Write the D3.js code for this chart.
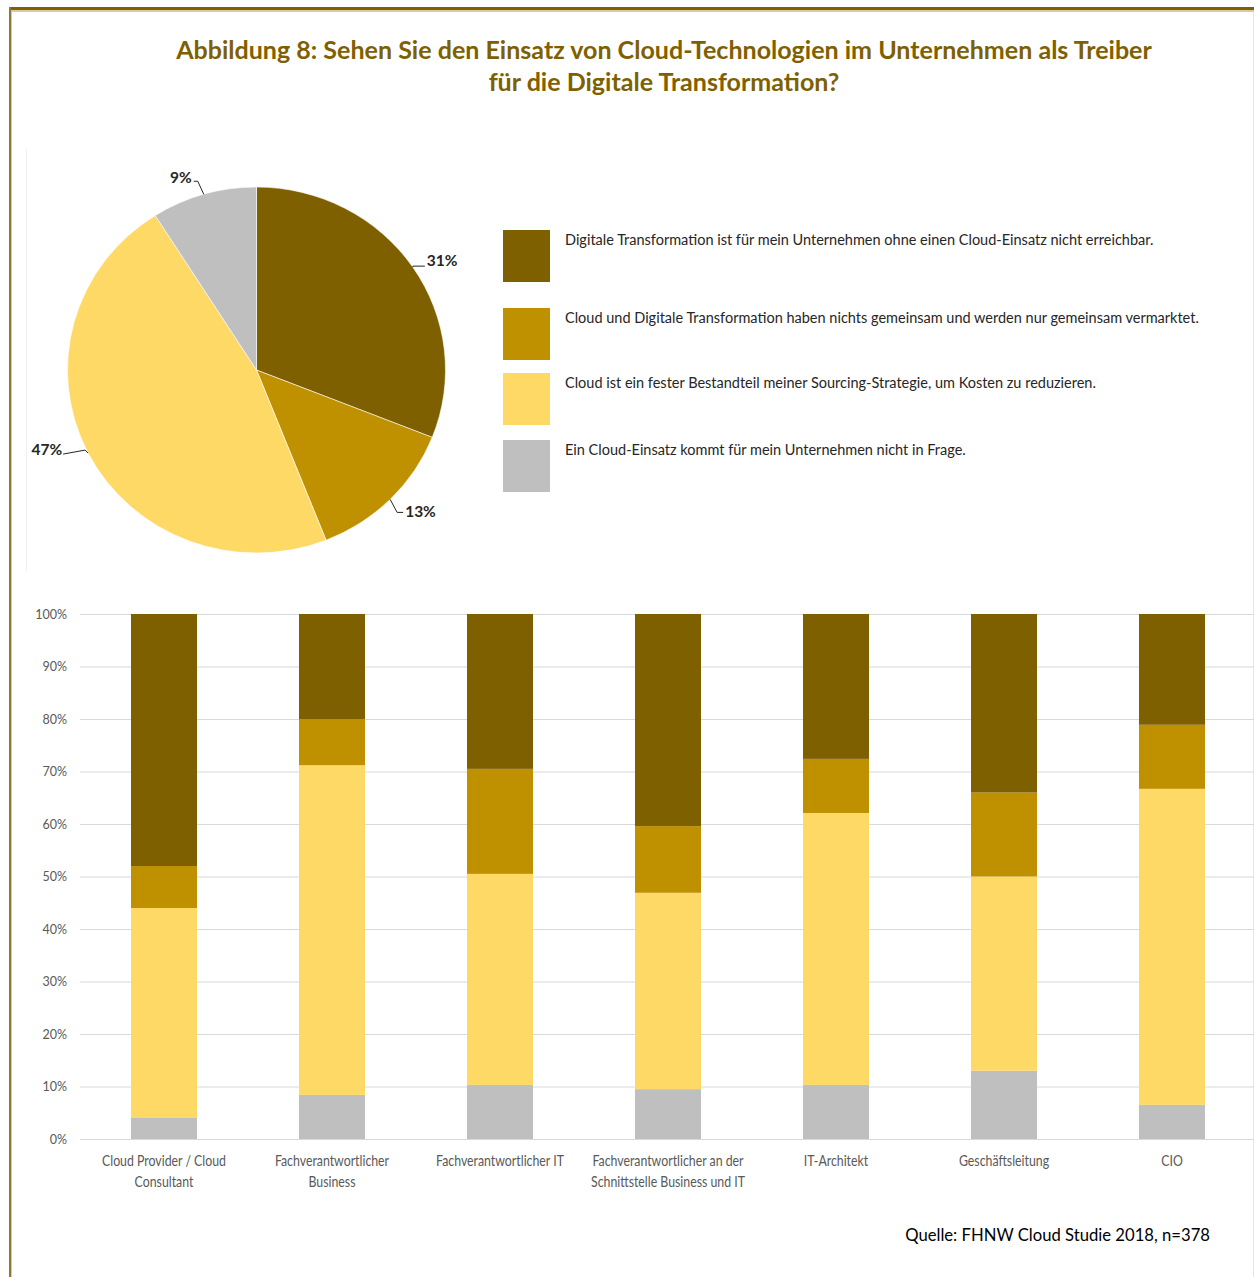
<!DOCTYPE html>
<html>
<head>
<meta charset="utf-8">
<script src="https://cdn.jsdelivr.net/npm/d3@7"></script>
<style>
  html, body { margin: 0; padding: 0; background: #fff; }
  svg { display: block; }
  text { font-family: Lato, "Open Sans", "Liberation Sans", sans-serif; }
</style>
</head>
<body>
<svg id="chart" width="1254" height="1277"></svg>
<script>
// ---- data ----
const titleLines = [
  "Abbildung 8: Sehen Sie den Einsatz von Cloud-Technologien im Unternehmen als Treiber",
  "für die Digitale Transformation?"
];
const seriesNames = [
  "Digitale Transformation ist für mein Unternehmen ohne einen Cloud-Einsatz nicht erreichbar.",
  "Cloud und Digitale Transformation haben nichts gemeinsam und werden nur gemeinsam vermarktet.",
  "Cloud ist ein fester Bestandteil meiner Sourcing-Strategie, um Kosten zu reduzieren.",
  "Ein Cloud-Einsatz kommt für mein Unternehmen nicht in Frage."
];
const seriesKeys = ["notReachable", "nothingInCommon", "sourcingPart", "notAnOption"];
const seriesColors = ["#7F6000", "#BF9000", "#FFD966", "#BFBFBF"];

// overall shares (pie)
const totalShares = [31, 13, 47, 9];

// shares by role (stacked bars), percent
const categories = [
  "Cloud Provider / Cloud Consultant",
  "Fachverantwortlicher Business",
  "Fachverantwortlicher IT",
  "Fachverantwortlicher an der Schnittstelle Business und IT",
  "IT-Architekt",
  "Geschäftsleitung",
  "CIO"
];
const categoryLines = [
  ["Cloud Provider / Cloud", "Consultant"],
  ["Fachverantwortlicher", "Business"],
  ["Fachverantwortlicher IT"],
  ["Fachverantwortlicher an der", "Schnittstelle Business und IT"],
  ["IT-Architekt"],
  ["Geschäftsleitung"],
  ["CIO"]
];
const notReachable    = [48.0, 20.0, 29.5, 40.4, 27.6, 34.0, 21.1];
const nothingInCommon = [ 8.0,  8.8, 20.0, 12.7, 10.3, 16.0, 12.2];
const sourcingPart    = [40.0, 62.8, 40.2, 37.4, 51.8, 37.0, 60.2];
const notAnOption     = [ 4.0,  8.4, 10.3,  9.5, 10.3, 13.0,  6.5];

const yTicks = [0, 10, 20, 30, 40, 50, 60, 70, 80, 90, 100];
const sourceNote = "Quelle: FHNW Cloud Studie 2018, n=378";

// ---- drawing ----
const svg = d3.select("#chart");

// scale a text's font size so that it spans the given width
function fitWidth(sel, target) {
  const node = sel.node();
  const size = parseFloat(sel.attr("font-size"));
  const w = node.getComputedTextLength();
  const s = size * target / w;
  sel.attr("font-size", s);
  return s;
}

// page frame
svg.append("rect").attr("x", 9).attr("y", 7).attr("width", 1245).attr("height", 3).attr("fill", "#7F6000");
svg.append("rect").attr("x", 11).attr("y", 10).attr("width", 1243).attr("height", 2).attr("fill", "#d8cba0");
svg.append("rect").attr("x", 9).attr("y", 7).attr("width", 2).attr("height", 1270).attr("fill", "#8c7838");
svg.append("rect").attr("x", 11).attr("y", 10).attr("width", 1).attr("height", 1267).attr("fill", "#d8cba0");
svg.append("line").attr("x1", 1253.5).attr("x2", 1253.5).attr("y1", 12).attr("y2", 1277)
  .attr("stroke", "#e6e6e6").attr("stroke-width", 1);
svg.append("line").attr("x1", 26.5).attr("x2", 26.5).attr("y1", 148).attr("y2", 572)
  .attr("stroke", "#f0f0f0").attr("stroke-width", 1);

// title
const t1 = svg.append("text").attr("x", 664).attr("y", 59).attr("text-anchor", "middle")
  .attr("font-size", 24).attr("font-weight", 700).attr("fill", "#7F6000").text(titleLines[0]);
const titleSize = fitWidth(t1, 976);
svg.append("text").attr("x", 664).attr("y", 91).attr("text-anchor", "middle")
  .attr("font-size", titleSize).attr("font-weight", 700).attr("fill", "#7F6000").text(titleLines[1]);

// ---- pie ----
const cx = 256.5, cy = 370, rx = 189, ry = 183;
const pieData = d3.pie().sort(null).value(d => d)(totalShares);
const arc = d3.arc().innerRadius(0).outerRadius(rx);
const pieG = svg.append("g").attr("transform", `translate(${cx},${cy}) scale(1,${ry / rx})`);
pieG.selectAll("path").data(pieData).join("path")
  .attr("d", arc)
  .attr("fill", (d, i) => seriesColors[i])
  .attr("stroke", "#fff").attr("stroke-width", 0.6);

// outside labels with leader lines
const labelLayout = [
  { elbow: [0, -1],   end: [12, -1],   anchor: "start", tx: 14,  ty: -7 },
  { elbow: [7, 13],   end: [13, 13],   anchor: "start", tx: 15,  ty: 12 },
  { elbow: [-3, -3],  end: [-25, 1],   anchor: "end",   tx: -26, ty: -4 },
  { elbow: [-6, -13], end: [-10, -13], anchor: "end",   tx: -12, ty: -17 }
];
pieData.forEach((d, i) => {
  const a = (d.startAngle + d.endAngle) / 2;
  const px = cx + rx * Math.sin(a), py = cy - ry * Math.cos(a);
  const L = labelLayout[i];
  svg.append("polyline")
    .attr("points", [[px, py], [px + L.elbow[0], py + L.elbow[1]], [px + L.end[0], py + L.end[1]]].map(p => p.join(",")).join(" "))
    .attr("fill", "none").attr("stroke", "#262626").attr("stroke-width", 1);
  svg.append("text").attr("x", px + L.tx).attr("y", py + L.ty).attr("dy", "0.35em")
    .attr("text-anchor", L.anchor).attr("font-size", 15.5).attr("font-weight", 700).attr("fill", "#262626")
    .text(d3.format(".0f")(d.value) + "%");
});

// legend
const legendY = [230, 308, 373, 440];
const legendG = svg.append("g");
legendG.selectAll("rect").data(seriesNames).join("rect")
  .attr("x", 503).attr("y", (d, i) => legendY[i]).attr("width", 47).attr("height", 52)
  .attr("fill", (d, i) => seriesColors[i]);
const lt = legendG.selectAll("text").data(seriesNames).join("text")
  .attr("x", 565).attr("y", (d, i) => legendY[i] + 15)
  .attr("font-size", 14).attr("fill", "#262626").text(d => d);
const legendSize = fitWidth(d3.select(lt.nodes()[0]), 589);
lt.attr("font-size", legendSize);

// ---- stacked bars ----
const margin = { left: 80, right: 1256, top: 614, bottom: 1139 };
const x = d3.scaleBand().domain(categories).range([margin.left, margin.right])
  .paddingInner(0.607).paddingOuter(0.3035);
const y = d3.scaleLinear().domain([0, 100]).range([margin.bottom, margin.top]);

const rows = categories.map((c, i) => ({
  category: c,
  notReachable: notReachable[i],
  nothingInCommon: nothingInCommon[i],
  sourcingPart: sourcingPart[i],
  notAnOption: notAnOption[i]
}));
const stackOrder = ["notAnOption", "sourcingPart", "nothingInCommon", "notReachable"];
const stacked = d3.stack().keys(stackOrder)(rows);

// gridlines
const grid = svg.append("g").attr("transform", `translate(${margin.left},0)`)
  .call(d3.axisLeft(y).tickValues(yTicks).tickSize(-(1254 - margin.left)).tickFormat(""));
grid.select(".domain").remove();
grid.selectAll(".tick line").attr("stroke", "#D9D9D9").attr("stroke-width", 1);

// y-axis labels
const yAxis = svg.append("g").attr("transform", "translate(67,0)")
  .call(d3.axisLeft(y).tickValues(yTicks).tickSize(0).tickPadding(0).tickFormat(d => d + "%"));
yAxis.select(".domain").remove();
yAxis.selectAll("text").attr("font-size", 12.5).attr("fill", "#595959")
  .attr("font-family", "Lato, sans-serif").attr("font-weight", 400);

svg.append("g").selectAll("g").data(stacked).join("g")
  .attr("fill", d => seriesColors[seriesKeys.indexOf(d.key)])
  .selectAll("rect").data(d => d).join("rect")
  .attr("x", d => x(d.data.category))
  .attr("width", x.bandwidth())
  .attr("y", d => y(d[1]))
  .attr("height", d => y(d[0]) - y(d[1]));

// x-axis category labels
const xl = svg.append("g").selectAll("text").data(categories).join("text")
  .attr("text-anchor", "middle").attr("font-size", 14.5).attr("fill", "#595959").attr("font-weight", 400)
  .attr("transform", d => `translate(${x(d) + x.bandwidth() / 2},1166) scale(0.85,1)`);
xl.selectAll("tspan").data((d, i) => categoryLines[i]).join("tspan")
  .attr("x", 0).attr("dy", (d, j) => j === 0 ? 0 : 21).text(d => d);

// source note
const src = svg.append("text").attr("x", 1210).attr("y", 1241).attr("text-anchor", "end")
  .attr("font-size", 16).attr("fill", "#000").text(sourceNote);
fitWidth(src, 305);
</script>
</body>
</html>
